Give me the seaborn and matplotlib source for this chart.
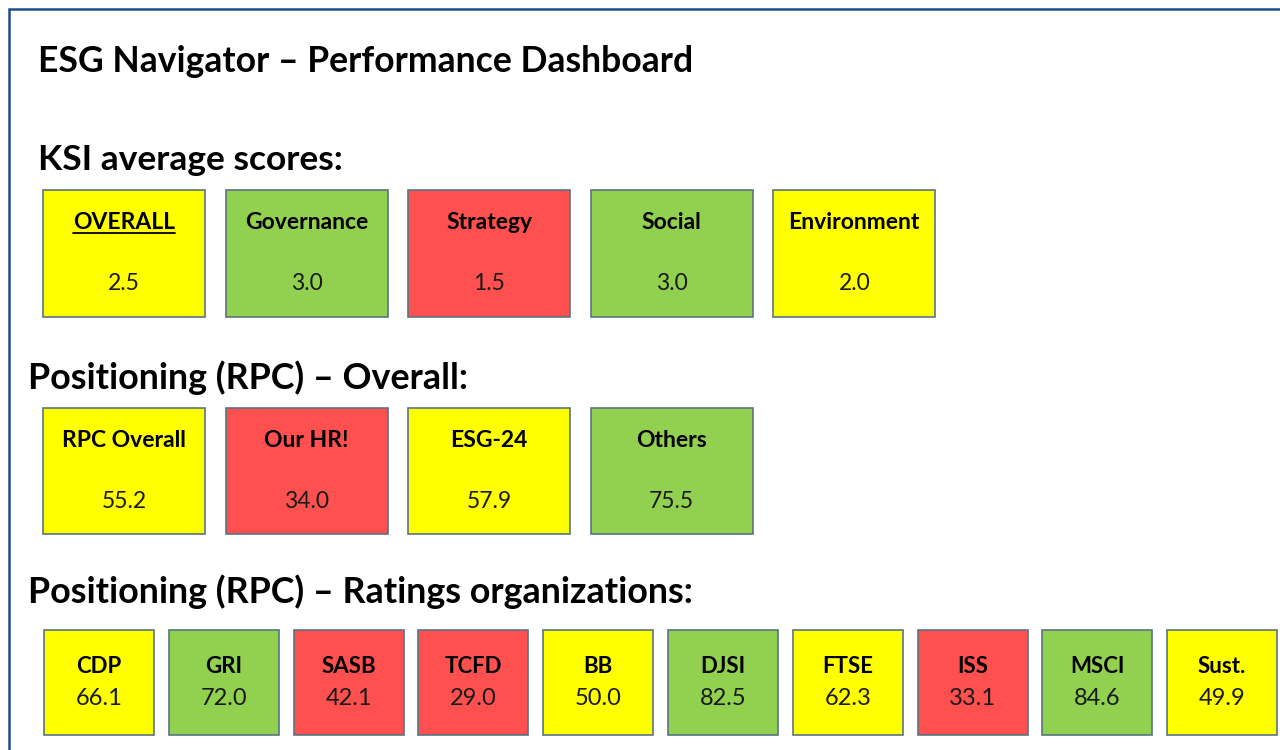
import matplotlib
matplotlib.use("Agg")
import matplotlib.pyplot as plt
import seaborn as sns
import pandas as pd
from matplotlib.lines import Line2D

# ---- data ----
ksi_labels = ["OVERALL", "Governance", "Strategy", "Social", "Environment"]
ksi_values = [2.5, 3.0, 1.5, 3.0, 2.0]
ksi_status = ["amber", "good", "poor", "good", "amber"]

rpc_labels = ["RPC Overall", "Our HR!", "ESG-24", "Others"]
rpc_values = [55.2, 34.0, 57.9, 75.5]
rpc_status = ["amber", "poor", "amber", "good"]

rating_labels = ["CDP", "GRI", "SASB", "TCFD", "BB", "DJSI", "FTSE", "ISS", "MSCI", "Sust."]
rating_values = [66.1, 72.0, 42.1, 29.0, 50.0, 82.5, 62.3, 33.1, 84.6, 49.9]
rating_status = ["amber", "good", "poor", "poor", "amber", "good", "amber", "poor", "good", "amber"]

status_colors = {"amber": "#FFFF00", "good": "#92D050", "poor": "#FF5050"}

sns.set_theme(style="white")
plt.rcParams["font.family"] = ["Lato", "DejaVu Sans"]
plt.rcParams["text.color"] = "black"

W, H = 1280, 750
fig = plt.figure(figsize=(W / 100, H / 100), dpi=100)
fig.patch.set_facecolor("white")


def px_axes(left, top, width, height):
    return fig.add_axes([left / W, 1 - (top + height) / H, width / W, height / H])


def tile_row(ax, labels, values, status, width, label_y, value_y, label_size, value_size):
    df = pd.DataFrame({"name": labels, "h": [1] * len(labels), "status": status})
    sns.barplot(data=df, x="name", y="h", hue="name", palette=[status_colors[s] for s in status],
                width=width, legend=False, ax=ax, edgecolor="#5A7483", linewidth=1.2,
                saturation=1)
    for p in ax.patches:
        p.set_clip_on(False)
    ax.set_xlim(-0.5, len(labels) - 0.5)
    ax.set_ylim(0, 1)
    ax.axis("off")
    texts = []
    for i, (lab, val) in enumerate(zip(labels, values)):
        t = ax.text(i, label_y, lab, ha="center", va="center", fontsize=label_size,
                    fontweight="bold", color="black")
        ax.text(i, value_y, f"{val:.1f}", ha="center", va="center", fontsize=value_size,
                color="#1a1a1a")
        texts.append(t)
    return texts


# titles
fig.text(38 / W, 1 - 62 / H, "ESG Navigator \u2013 Performance Dashboard", fontsize=25.6,
         fontweight="bold", va="center", ha="left")
fig.text(38 / W, 1 - 160 / H, "KSI average scores:", fontsize=25.5,
         fontweight="bold", va="center", ha="left")
fig.text(28 / W, 1 - 378 / H, "Positioning (RPC) \u2013 Overall:", fontsize=25.8,
         fontweight="bold", va="center", ha="left")
fig.text(28 / W, 1 - 592 / H, "Positioning (RPC) \u2013 Ratings organizations:", fontsize=25.8,
         fontweight="bold", va="center", ha="left")

# rows of tiles
ax1 = px_axes(33, 190, 912.5, 127)
ksi_texts = tile_row(ax1, ksi_labels, ksi_values, ksi_status, 0.888, 0.748, 0.26, 16.5, 16.5)

ax2 = px_axes(33, 408, 730, 126)
tile_row(ax2, rpc_labels, rpc_values, rpc_status, 0.888, 0.746, 0.254, 16.5, 16.5)

ax3 = px_axes(36.6, 630, 1248, 105)
tile_row(ax3, rating_labels, rating_values, rating_status, 0.881, 0.648, 0.352, 16, 17)

# underline the OVERALL label
fig.canvas.draw()
bb = ksi_texts[0].get_window_extent().transformed(ax1.transData.inverted())
ax1.add_line(Line2D([bb.x0, bb.x1], [bb.y0 - 0.005, bb.y0 - 0.005], color="black", lw=1.3))

# outer frame (top and left edges)
fig.add_artist(Line2D([9 / W, 1.0], [1 - 9 / H, 1 - 9 / H], color="#1F4E8C", lw=1.8))
fig.add_artist(Line2D([9 / W, 9 / W], [0.0, 1 - 9 / H], color="#1F4E8C", lw=1.8))

fig.savefig("out.png", dpi=100)
